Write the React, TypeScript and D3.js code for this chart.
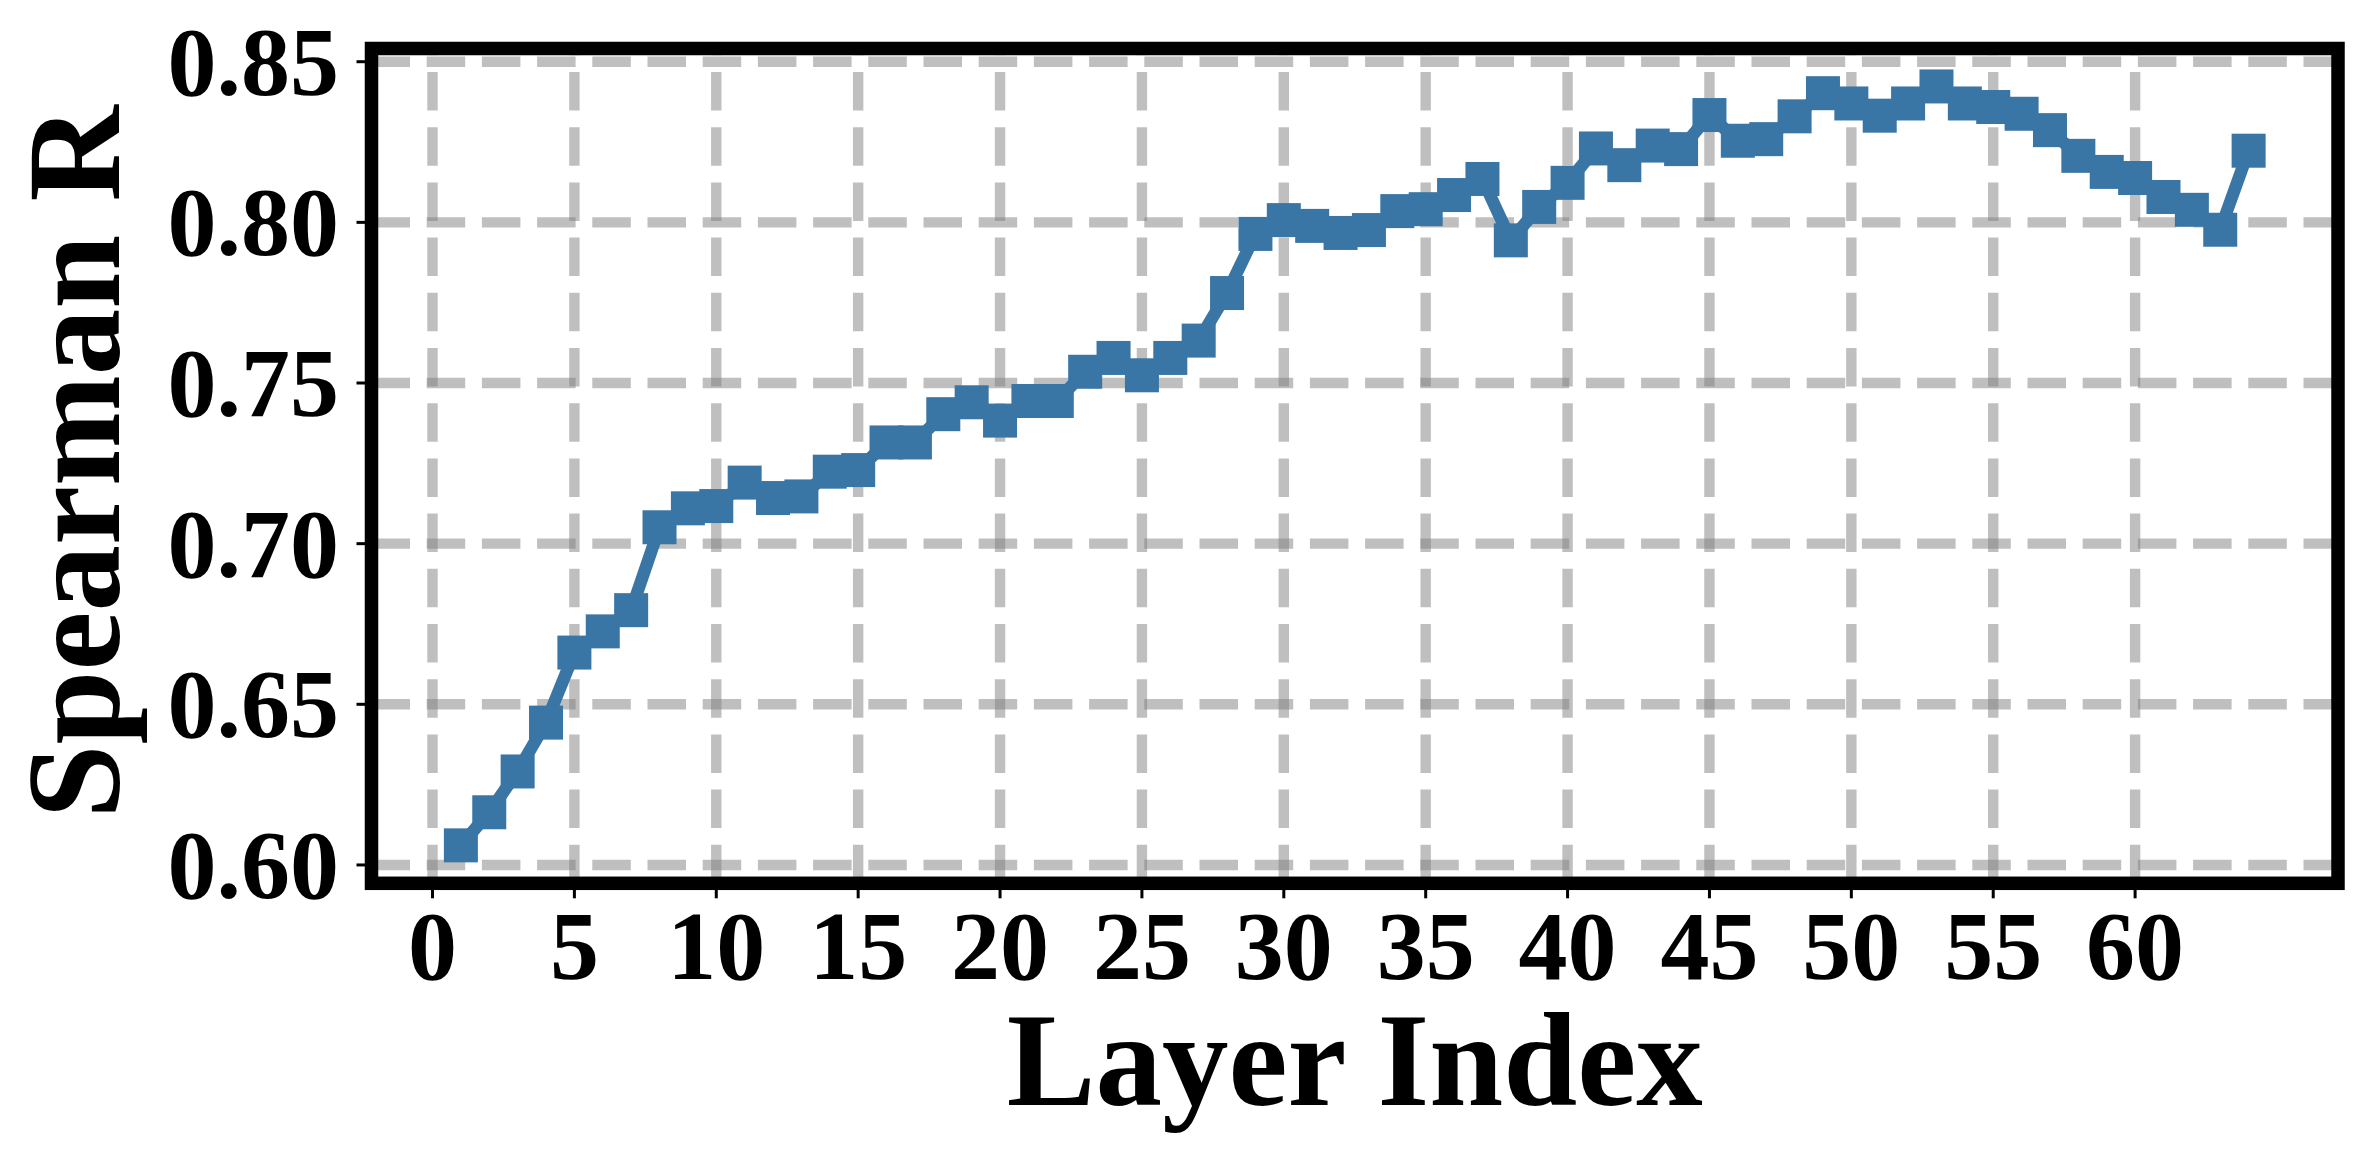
import React from "react";
import * as d3 from "d3";

const layers: number[] = d3.range(1, 65);
const spearman: number[] = [
  0.6061, 0.6164, 0.6291, 0.6443, 0.6661, 0.6727, 0.6793, 0.7051, 0.7110, 0.7117,
  0.7190, 0.7142, 0.7147, 0.7224, 0.7229, 0.7315, 0.7315, 0.7403, 0.7440, 0.7383,
  0.7444, 0.7444, 0.7535, 0.7578, 0.7524, 0.7578, 0.7632, 0.7780, 0.7964, 0.8007,
  0.7989, 0.7967, 0.7976, 0.8035, 0.8041, 0.8085, 0.8135, 0.7944, 0.8048, 0.8123,
  0.8230, 0.8178, 0.8239, 0.8228, 0.8334, 0.8254, 0.8259, 0.8330, 0.8402, 0.8370,
  0.8332, 0.8370, 0.8423, 0.8370, 0.8359, 0.8338, 0.8287, 0.8207, 0.8157, 0.8138,
  0.8079, 0.8039, 0.7977, 0.8223,
];
const xTicks: number[] = [0, 5, 10, 15, 20, 25, 30, 35, 40, 45, 50, 55, 60];
const yTicks: number[] = [0.6, 0.65, 0.7, 0.75, 0.8, 0.85];
const xLabel = "Layer Index";
const yLabel = "Spearman R";

const W = 2367;
const H = 1164;
const L = 371.5, R = 2338, T = 48.5, B = 883.3;
const FONT = "'Liberation Serif', 'Times New Roman', Times, serif";
const COLOR = "#3a76a5";

function pad([a, b]: [number, number]): [number, number] {
  const m = (b - a) * 0.05;
  return [a - m, b + m];
}

export default function App() {
  const xDom = pad(d3.extent(layers) as [number, number]);
  const yDom = pad(d3.extent(spearman) as [number, number]);
  const x = d3.scaleLinear().domain(xDom).range([L, R]);
  const y = d3.scaleLinear().domain(yDom).range([B, T]);
  const data = layers.map((l, i) => ({ l, v: spearman[i] }));
  const line = d3
    .line<{ l: number; v: number }>()
    .x((d) => x(d.l))
    .y((d) => y(d.v));
  const ms = 34;

  return (
    <svg
      width={W}
      height={H}
      style={{ position: "absolute", left: 0, top: 0, background: "#fff" }}
    >
      <rect x={0} y={0} width={W} height={H} fill="#fff" />
      {/* grid */}
      <g stroke="#808080" strokeOpacity={0.5} strokeWidth={10.4} strokeDasharray="38.5 16.7">
        {xTicks.map((t) => (
          <line key={"gx" + t} x1={x(t)} x2={x(t)} y1={B} y2={T} />
        ))}
        {yTicks.map((t) => (
          <line key={"gy" + t} x1={L} x2={R} y1={y(t)} y2={y(t)} />
        ))}
      </g>
      {/* data */}
      <path d={line(data) || ""} fill="none" stroke={COLOR} strokeWidth={12.5} strokeLinejoin="round" />
      {data.map((d) => (
        <rect
          key={d.l}
          x={x(d.l) - ms / 2}
          y={y(d.v) - ms / 2}
          width={ms}
          height={ms}
          fill={COLOR}
        />
      ))}
      {/* frame */}
      <rect x={L} y={T} width={R - L} height={B - T} fill="none" stroke="#000" strokeWidth={13.5} />
      {/* ticks */}
      <g stroke="#000" strokeWidth={3}>
        {xTicks.map((t) => (
          <line key={"tx" + t} x1={x(t)} x2={x(t)} y1={B} y2={B + 15} />
        ))}
        {yTicks.map((t) => (
          <line key={"ty" + t} x1={L - 15} x2={L} y1={y(t)} y2={y(t)} />
        ))}
      </g>
      <g fontFamily={FONT} fontWeight="bold" fontSize={98} fill="#000">
        {xTicks.map((t) => (
          <text key={"lx" + t} x={x(t)} y={979} textAnchor="middle">
            {t}
          </text>
        ))}
        {yTicks.map((t) => (
          <text key={"ly" + t} x={339} y={y(t) + 33} textAnchor="end">
            {d3.format(".2f")(t)}
          </text>
        ))}
      </g>
      <text
        x={(L + R) / 2}
        y={1105}
        textAnchor="middle"
        fontFamily={FONT}
        fontWeight="bold"
        fontSize={133}
      >
        {xLabel}
      </text>
      <text
        transform={`translate(119, ${(T + B) / 2 - 4}) rotate(-90)`}
        textAnchor="middle"
        fontFamily={FONT}
        fontWeight="bold"
        fontSize={133}
      >
        {yLabel}
      </text>
    </svg>
  );
}
